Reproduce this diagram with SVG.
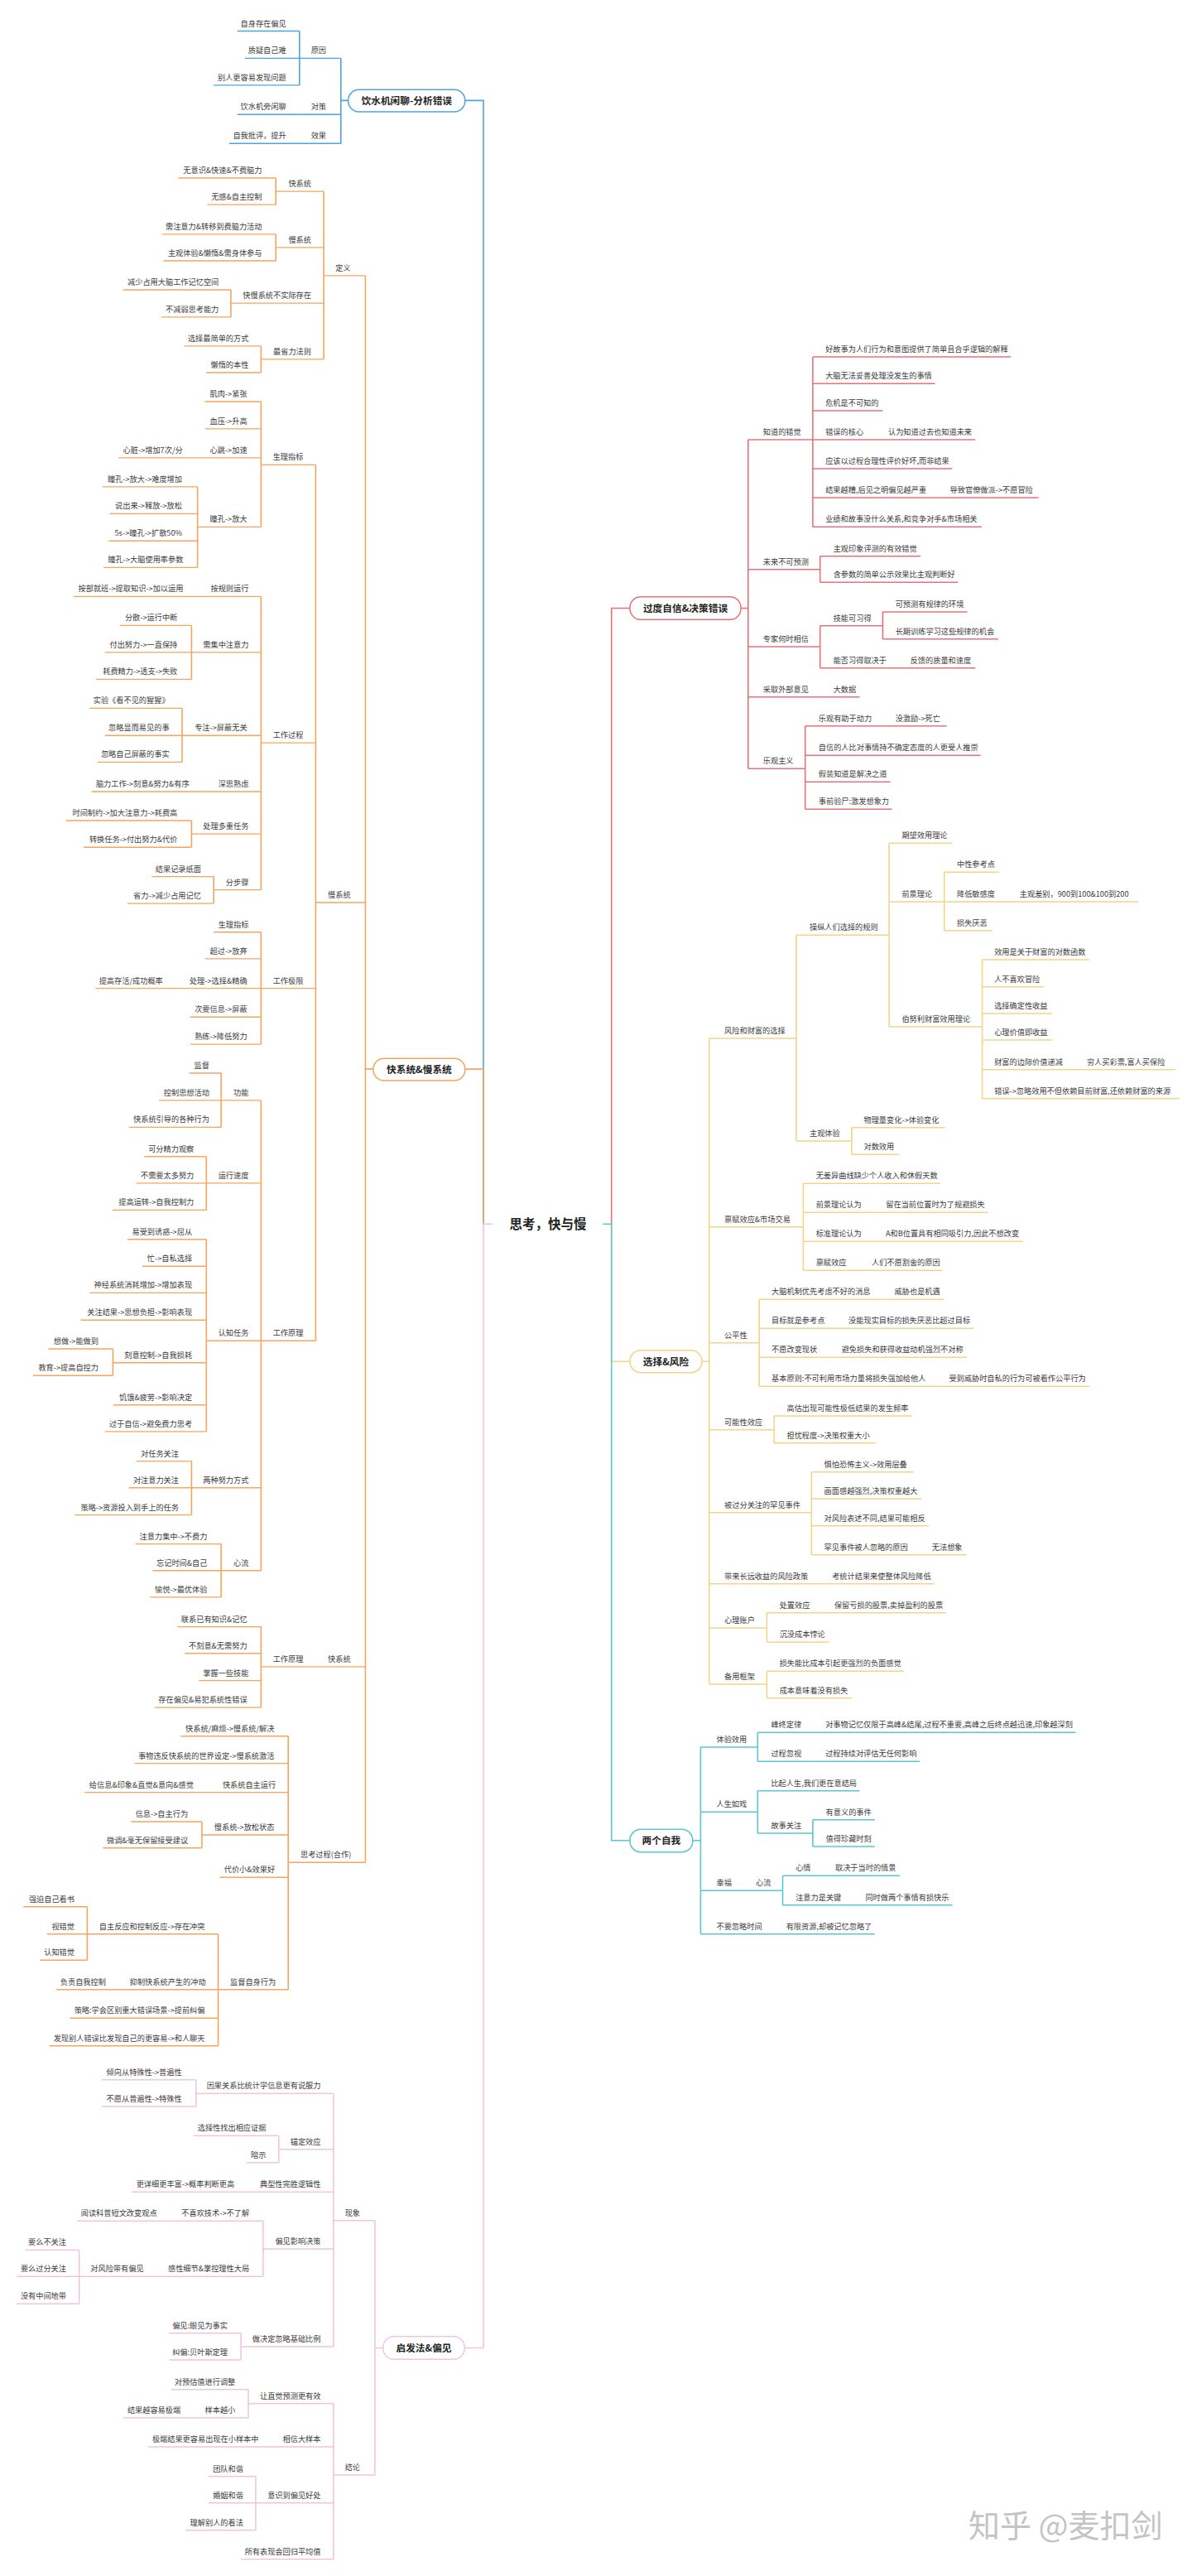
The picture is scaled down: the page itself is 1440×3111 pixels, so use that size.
<svg xmlns="http://www.w3.org/2000/svg" width="1440" height="3111" viewBox="0 0 1440 3111">
<style>
text{font-family:"Noto Sans CJK SC","Noto Sans",sans-serif;fill:#3c3c3c;font-size:9.2px}
.l{text-anchor:end}
.m{text-anchor:middle;font-weight:bold;font-size:11.7px;fill:#222}
.ct{text-anchor:middle;font-weight:bold;font-size:15.5px;fill:#222}
.wm{font-size:38px;fill:#c4c4c4}
path{fill:none;stroke-width:1.4}
#connectors path{stroke-width:1.6}
.b{stroke:#4fa4de}.o{stroke:#f4a55f}.p{stroke:#efc6de}.r{stroke:#e8717d}.y{stroke:#f3d58a}.c{stroke:#5ac7d0}
rect{fill:#fff;stroke-width:1.5}
</style>
<rect x="0" y="0" width="1440" height="3111" style="fill:#fff;stroke:none"/>
<g id="connectors">
<path class="b" d="M361.8 37.5V102.9M411.8 70.4V173.2M411.8 121.4H420.7M561.8 121.4H584V1478.3"/>
<path class="o" d="M441.4 332.9V2249.3M441.4 1291.1H451M561.8 1291.1H584V1478.3M391.1 231.1V433.9M333.2 215V247.1M333.2 282.9V315M278.9 350V382.9M315.4 417.9V450M381.4 561.4V1619.3M315.4 485V636.4M238.6 587.9V685.4M315.4 720.4V1074.6M231.4 755.4V820.4M220 855.4V920.4M231.4 991V1023.2M258.2 1058.6V1091.1M315.4 1125.7V1261.1M315.4 1328.9V1896.8M267.1 1296V1361.4M249.3 1396.8V1461.4M249.3 1496.8V1728.9M136.4 1629V1661.2M231.4 1764.6V1829.6M267.1 1864.6V1928.9M315.4 1964.6V2062.1M348.2 2096.8V2402.7M243.9 2200V2231.7M263.6 2335.7V2470.7M105.4 2302.7V2367.3"/>
<path class="p" d="M595 1478.3H584V2835.5H561.1M452.9 2835.5H462.9M452.9 2681.7V2989M402.9 2528.3V2834M236.8 2511.7V2544M336.8 2579.3V2611.7M317.9 2682.3V2749.3M95.7 2717.3V2782.3M291.1 2817.7V2850M402.9 2902.7V3090.7M300 2885.7V2920M308.9 2990.7V3055.7"/>
<path class="r" d="M738.7 1478.3V734.5H761M895 734.5H903.8M903.8 531V928.3M981.9 431V636.3M990.7 671.7V703.3M990.7 755.7V806.7M1066.4 739V771.7M972.7 876.7V977.3"/>
<path class="y" d="M738.7 1478.3V1644.2H761M847.9 1644.2H856.7M856.7 1254V2034M962 1129.3V1378M1074.1 1018.3V1240M1140.7 1053.3V1124M1186.6 1159V1326.7M1028.9 1361.7V1394.3M970.4 1429.3V1534.3M917.2 1569.3V1674.3M935.2 1710V1742.7M980.3 1777.7V1877.7M926.4 1947.7V1983.3M926.4 2018.3V2050.7"/>
<path class="c" d="M728.4 1478.3H738.7V2222.7H761M836.8 2222.7H846.4M846.4 2110V2335.7M915.3 2092.3V2127.3M915.3 2162.7V2214M981.9 2197.7V2230M945.5 2265.3V2300.7"/>
</g>
<g id="center"><text class="ct" x="662" y="1484">思考，快与慢</text></g>

<g id="blue-main"><rect class="b" x="420.7" y="108.2" width="141.1" height="26.8" rx="13"/><text class="m" x="491.3" y="125.6">饮水机闲聊-分析错误</text></g>
<g id="b1"><text class="l" x="394" y="64.4">原因</text><path class="b" d="M361.8 70.4H411.8"/></g>
<g id="b1a"><text class="l" x="345.7" y="31.5">自身存在偏见</text><path class="b" d="M286.8 37.5H361.8"/></g>
<g id="b1b"><text class="l" x="345.7" y="64.4">质疑自己难</text><path class="b" d="M295.7 70.4H361.8"/></g>
<g id="b1c"><text class="l" x="345.7" y="96.9">别人更容易发现问题</text><path class="b" d="M258.2 102.9H361.8"/></g>
<g id="b2"><text class="l" x="394" y="132.2">对策</text><path class="b" d="M361.8 138.2H411.8"/></g>
<g id="b2a"><text class="l" x="345.7" y="132.2">饮水机旁闲聊</text><path class="b" d="M286.8 138.2H361.8"/></g>
<g id="b3"><text class="l" x="394" y="167.2">效果</text><path class="b" d="M361.8 173.2H411.8"/></g>
<g id="b3a"><text class="l" x="345.7" y="167.2">自我批评，提升</text><path class="b" d="M277 173.2H361.8"/></g>

<g id="orange-main"><rect class="o" x="451" y="1278.2" width="110.8" height="26.8" rx="13"/><text class="m" x="506.4" y="1295.5">快系统&amp;慢系统</text></g>
<g id="o1"><text class="l" x="423.6" y="326.9">定义</text><path class="o" d="M391.1 332.9H441.4"/></g>
<g id="o1a"><text class="l" x="376" y="225.1">快系统</text><path class="o" d="M333.2 231.1H391.1"/></g>
<g id="o1a1"><text class="l" x="316.5" y="209">无意识&amp;快速&amp;不费脑力</text><path class="o" d="M215.4 215H333.2"/></g>
<g id="o1a2"><text class="l" x="316.5" y="241.1">无感&amp;自主控制</text><path class="o" d="M250.4 247.1H333.2"/></g>
<g id="o1b"><text class="l" x="376" y="292.9">慢系统</text><path class="o" d="M333.2 298.9H391.1"/></g>
<g id="o1b1"><text class="l" x="316.5" y="276.9">需注意力&amp;转移到费脑力活动</text><path class="o" d="M195.7 282.9H333.2"/></g>
<g id="o1b2"><text class="l" x="316.5" y="309">主观体验&amp;懒惰&amp;需身体参与</text><path class="o" d="M197.5 315H333.2"/></g>
<g id="o1c"><text class="l" x="376" y="360.1">快慢系统不实际存在</text><path class="o" d="M278.9 366.1H391.1"/></g>
<g id="o1c1"><text class="l" x="264.3" y="344">减少占用大脑工作记忆空间</text><path class="o" d="M148.6 350H278.9"/></g>
<g id="o1c2"><text class="l" x="264.3" y="376.9">不减弱思考能力</text><path class="o" d="M195 382.9H278.9"/></g>
<g id="o1d"><text class="l" x="376" y="427.9">最省力法则</text><path class="o" d="M315.4 433.9H391.1"/></g>
<g id="o1d1"><text class="l" x="300.4" y="411.9">选择最简单的方式</text><path class="o" d="M222.5 417.9H315.4"/></g>
<g id="o1d2"><text class="l" x="300.4" y="444">懒惰的本性</text><path class="o" d="M249.3 450H315.4"/></g>

<g id="o2"><text class="l" x="423.6" y="1084">慢系统</text><path class="o" d="M381.4 1090H441.4"/></g>
<g id="o2a"><text class="l" x="366.4" y="555.4">生理指标</text><path class="o" d="M315.4 561.4H381.4"/></g>
<g id="o2a1"><text class="l" x="298.6" y="479">肌肉-&gt;紧张</text><path class="o" d="M247.5 485H315.4"/></g>
<g id="o2a2"><text class="l" x="298.6" y="511.9">血压-&gt;升高</text><path class="o" d="M247.5 517.9H315.4"/></g>
<g id="o2a3"><text class="l" x="298.6" y="546.9">心跳-&gt;加速</text><path class="o" d="M245 552.9H315.4"/></g>
<g id="o2a3a"><text class="l" x="220.7" y="546.9">心脏-&gt;增加7次/分</text><path class="o" d="M143.2 552.9H245"/></g>
<g id="o2a4"><text class="l" x="298.6" y="630.4">瞳孔-&gt;放大</text><path class="o" d="M238.6 636.4H315.4"/></g>
<g id="o2a4a"><text class="l" x="220" y="581.9">瞳孔-&gt;放大-&gt;难度增加</text><path class="o" d="M123.6 587.9H238.6"/></g>
<g id="o2a4b"><text class="l" x="220" y="614.4">说出来-&gt;释放-&gt;放松</text><path class="o" d="M132.5 620.4H238.6"/></g>
<g id="o2a4c"><text class="l" x="220" y="647.2">5s-&gt;瞳孔-&gt;扩散50%</text><path class="o" d="M131.4 653.2H238.6"/></g>
<g id="o2a4d"><text class="l" x="221.4" y="679.4">瞳孔-&gt;大脑使用率参数</text><path class="o" d="M125 685.4H238.6"/></g>
<g id="o2b"><text class="l" x="366.4" y="891.1">工作过程</text><path class="o" d="M315.4 897.1H381.4"/></g>
<g id="o2b1"><text class="l" x="300.4" y="714.4">按规则运行</text><path class="o" d="M250 720.4H315.4"/></g>
<g id="o2b1a"><text class="l" x="221.4" y="714.4">按部就班-&gt;提取知识-&gt;加以运用</text><path class="o" d="M88.6 720.4H250"/></g>
<g id="o2b2"><text class="l" x="300.4" y="781.9">需集中注意力</text><path class="o" d="M231.4 787.9H315.4"/></g>
<g id="o2b2a"><text class="l" x="214.3" y="749.4">分散-&gt;运行中断</text><path class="o" d="M145 755.4H231.4"/></g>
<g id="o2b2b"><text class="l" x="214.3" y="781.9">付出努力-&gt;一直保持</text><path class="o" d="M126.8 787.9H231.4"/></g>
<g id="o2b2c"><text class="l" x="214.3" y="814.4">耗费精力-&gt;透支-&gt;失败</text><path class="o" d="M116 820.4H231.4"/></g>
<g id="o2b3"><text class="l" x="298.6" y="882.2">专注-&gt;屏蔽无关</text><path class="o" d="M220 888.2H315.4"/></g>
<g id="o2b3a"><text class="l" x="204.6" y="849.4">实验《看不见的猩猩》</text><path class="o" d="M108.2 855.4H220"/></g>
<g id="o2b3b"><text class="l" x="204.6" y="882.2">忽略显而易见的事</text><path class="o" d="M126.8 888.2H220"/></g>
<g id="o2b3c"><text class="l" x="204.6" y="914.4">忽略自己屏蔽的事实</text><path class="o" d="M117.9 920.4H220"/></g>
<g id="o2b4"><text class="l" x="300.4" y="950">深思熟虑</text><path class="o" d="M259 956H315.4"/></g>
<g id="o2b4a"><text class="l" x="228.6" y="950">脑力工作-&gt;刻意&amp;努力&amp;有序</text><path class="o" d="M110.7 956H259"/></g>
<g id="o2b5"><text class="l" x="300.4" y="1001.1">处理多重任务</text><path class="o" d="M231.4 1007.1H315.4"/></g>
<g id="o2b5a"><text class="l" x="214.3" y="985">时间制约-&gt;加大注意力-&gt;耗费高</text><path class="o" d="M79.6 991H231.4"/></g>
<g id="o2b5b"><text class="l" x="214.3" y="1017.2">转换任务-&gt;付出努力&amp;代价</text><path class="o" d="M101 1023.2H231.4"/></g>
<g id="o2b6"><text class="l" x="300.4" y="1068.6">分步骤</text><path class="o" d="M258.2 1074.6H315.4"/></g>
<g id="o2b6a"><text class="l" x="242.9" y="1052.6">结果记录纸面</text><path class="o" d="M183.2 1058.6H258.2"/></g>
<g id="o2b6b"><text class="l" x="242.9" y="1085.1">省力-&gt;减少占用记忆</text><path class="o" d="M153.9 1091.1H258.2"/></g>
<g id="o2c"><text class="l" x="366.4" y="1187.6">工作极限</text><path class="o" d="M315.4 1193.6H381.4"/></g>
<g id="o2c1"><text class="l" x="300.4" y="1119.7">生理指标</text><path class="o" d="M258.2 1125.7H315.4"/></g>
<g id="o2c2"><text class="l" x="298.6" y="1151.9">超过-&gt;放弃</text><path class="o" d="M247.5 1157.9H315.4"/></g>
<g id="o2c3"><text class="l" x="298.6" y="1187.6">处理-&gt;选择&amp;精确</text><path class="o" d="M222 1193.6H315.4"/></g>
<g id="o2c3a"><text class="l" x="196.8" y="1187.6">提高存活/成功概率</text><path class="o" d="M115.4 1193.6H222"/></g>
<g id="o2c4"><text class="l" x="298.6" y="1222.2">次要信息-&gt;屏蔽</text><path class="o" d="M229.6 1228.2H315.4"/></g>
<g id="o2c5"><text class="l" x="298.6" y="1255.1">熟练-&gt;降低努力</text><path class="o" d="M229.6 1261.1H315.4"/></g>
<g id="o2d"><text class="l" x="366.4" y="1613.3">工作原理</text><path class="o" d="M315.4 1619.3H381.4"/></g>
<g id="o2d1"><text class="l" x="300.4" y="1322.9">功能</text><path class="o" d="M267.1 1328.9H315.4"/></g>
<g id="o2d1a"><text class="l" x="252.9" y="1290">监督</text><path class="o" d="M228.6 1296H267.1"/></g>
<g id="o2d1b"><text class="l" x="252.9" y="1322.9">控制思想活动</text><path class="o" d="M192.1 1328.9H267.1"/></g>
<g id="o2d1c"><text class="l" x="252.9" y="1355.4">快系统引导的各种行为</text><path class="o" d="M155.7 1361.4H267.1"/></g>
<g id="o2d2"><text class="l" x="300.4" y="1422.9">运行速度</text><path class="o" d="M249.3 1428.9H315.4"/></g>
<g id="o2d2a"><text class="l" x="234.3" y="1390.8">可分精力观察</text><path class="o" d="M174.3 1396.8H249.3"/></g>
<g id="o2d2b"><text class="l" x="234.3" y="1422.9">不需要太多努力</text><path class="o" d="M164.6 1428.9H249.3"/></g>
<g id="o2d2c"><text class="l" x="234.3" y="1455.4">提高运转-&gt;自我控制力</text><path class="o" d="M136.1 1461.4H249.3"/></g>
<g id="o2d3"><text class="l" x="300.4" y="1613.3">认知任务</text><path class="o" d="M249.3 1619.3H315.4"/></g>
<g id="o2d3a"><text class="l" x="232.1" y="1490.8">易受到诱惑-&gt;屈从</text><path class="o" d="M153.9 1496.8H249.3"/></g>
<g id="o2d3b"><text class="l" x="232.1" y="1523.3">忙-&gt;自私选择</text><path class="o" d="M171.8 1529.3H249.3"/></g>
<g id="o2d3c"><text class="l" x="232.1" y="1555.4">神经系统消耗增加-&gt;增加表现</text><path class="o" d="M108.2 1561.4H249.3"/></g>
<g id="o2d3d"><text class="l" x="232.1" y="1588.3">关注结果-&gt;思想负担-&gt;影响表现</text><path class="o" d="M97.5 1594.3H249.3"/></g>
<g id="o2d3e"><text class="l" x="232.1" y="1639.7">刻意控制-&gt;自我损耗</text><path class="o" d="M136.4 1645.7H249.3"/></g>
<g id="o2d3e1"><text class="l" x="119" y="1623">想做-&gt;能做到</text><path class="o" d="M58.3 1629H136.4"/></g>
<g id="o2d3e2"><text class="l" x="119" y="1655.2">教育-&gt;提高自控力</text><path class="o" d="M40 1661.2H136.4"/></g>
<g id="o2d3f"><text class="l" x="232.1" y="1690.8">饥饿&amp;疲劳-&gt;影响决定</text><path class="o" d="M136.8 1696.8H249.3"/></g>
<g id="o2d3g"><text class="l" x="232.1" y="1722.9">过于自信-&gt;避免费力思考</text><path class="o" d="M126.8 1728.9H249.3"/></g>
<g id="o2d4"><text class="l" x="300.4" y="1790.8">两种努力方式</text><path class="o" d="M231.4 1796.8H315.4"/></g>
<g id="o2d4a"><text class="l" x="216" y="1758.6">对任务关注</text><path class="o" d="M164.6 1764.6H231.4"/></g>
<g id="o2d4b"><text class="l" x="216" y="1790.8">对注意力关注</text><path class="o" d="M155.7 1796.8H231.4"/></g>
<g id="o2d4c"><text class="l" x="216" y="1823.6">策略-&gt;资源投入到手上的任务</text><path class="o" d="M90.4 1829.6H231.4"/></g>
<g id="o2d5"><text class="l" x="300.4" y="1890.8">心流</text><path class="o" d="M267.1 1896.8H315.4"/></g>
<g id="o2d5a"><text class="l" x="250.4" y="1858.6">注意力集中-&gt;不费力</text><path class="o" d="M163.6 1864.6H267.1"/></g>
<g id="o2d5b"><text class="l" x="250.4" y="1890.8">忘记时间&amp;自己</text><path class="o" d="M184.3 1896.8H267.1"/></g>
<g id="o2d5c"><text class="l" x="250.4" y="1922.9">愉悦-&gt;最优体验</text><path class="o" d="M181.4 1928.9H267.1"/></g>

<g id="o3"><text class="l" x="423.6" y="2006.9">快系统</text><path class="o" d="M381.4 2012.9H441.4"/></g>
<g id="o3a"><text class="l" x="366.4" y="2006.9">工作原理</text><path class="o" d="M315.4 2012.9H381.4"/></g>
<g id="o3a1"><text class="l" x="298.6" y="1958.6">联系已有知识&amp;记忆</text><path class="o" d="M214.3 1964.6H315.4"/></g>
<g id="o3a2"><text class="l" x="298.6" y="1990.8">不刻意&amp;无需努力</text><path class="o" d="M223.2 1996.8H315.4"/></g>
<g id="o3a3"><text class="l" x="300.4" y="2023.6">掌握一些技能</text><path class="o" d="M240.4 2029.6H315.4"/></g>
<g id="o3a4"><text class="l" x="298.6" y="2056.1">存在偏见&amp;易犯系统性错误</text><path class="o" d="M186.8 2062.1H315.4"/></g>

<g id="o4"><text class="l" x="424.3" y="2243.3">思考过程(合作)</text><path class="o" d="M348.2 2249.3H441.4"/></g>
<g id="o4a"><text class="l" x="331.4" y="2090.8">快系统/麻烦-&gt;慢系统/解决</text><path class="o" d="M218.2 2096.8H348.2"/></g>
<g id="o4b"><text class="l" x="331.4" y="2123.6">事物违反快系统的世界设定-&gt;慢系统激活</text><path class="o" d="M162.5 2129.6H348.2"/></g>
<g id="o4c"><text class="l" x="333.2" y="2158.6">快系统自主运行</text><path class="o" d="M265 2164.6H348.2"/></g>
<g id="o4c1"><text class="l" x="233.9" y="2158.6">给信息&amp;印象&amp;直觉&amp;意向&amp;感觉</text><path class="o" d="M102.1 2164.6H265"/></g>
<g id="o4d"><text class="l" x="331.4" y="2210">慢系统-&gt;放松状态</text><path class="o" d="M243.9 2216H348.2"/></g>
<g id="o4d1"><text class="l" x="227.1" y="2194">信息-&gt;自主行为</text><path class="o" d="M158.2 2200H243.9"/></g>
<g id="o4d2"><text class="l" x="227.1" y="2225.7">微调&amp;毫无保留接受建议</text><path class="o" d="M124.3 2231.7H243.9"/></g>
<g id="o4e"><text class="l" x="332.1" y="2261.3">代价小&amp;效果好</text><path class="o" d="M265.4 2267.3H348.2"/></g>
<g id="o4f"><text class="l" x="333.2" y="2396.7">监督自身行为</text><path class="o" d="M263.6 2402.7H348.2"/></g>
<g id="o4f1"><text class="l" x="247.5" y="2329.7">自主反应和控制反应-&gt;存在冲突</text><path class="o" d="M105.4 2335.7H263.6"/></g>
<g id="o4f1a"><text class="l" x="90" y="2296.7">强迫自己看书</text><path class="o" d="M28.3 2302.7H105.4"/></g>
<g id="o4f1b"><text class="l" x="90" y="2329.7">视错觉</text><path class="o" d="M56.7 2335.7H105.4"/></g>
<g id="o4f1c"><text class="l" x="90" y="2361.3">认知错觉</text><path class="o" d="M48.3 2367.3H105.4"/></g>
<g id="o4f2"><text class="l" x="248.6" y="2396.7">抑制快系统产生的冲动</text><path class="o" d="M150 2402.7H263.6"/></g>
<g id="o4f2a"><text class="l" x="127.9" y="2396.7">负责自我控制</text><path class="o" d="M67.9 2402.7H150"/></g>
<g id="o4f3"><text class="l" x="247.5" y="2431.3">策略:学会区别重大错误场景-&gt;提前纠偏</text><path class="o" d="M84.3 2437.3H263.6"/></g>
<g id="o4f4"><text class="l" x="247.5" y="2464.7">发现别人错误比发现自己的更容易-&gt;和人聊天</text><path class="o" d="M59.6 2470.7H263.6"/></g>

<g id="pink-main"><rect class="p" x="462.9" y="2821.7" width="98.2" height="27.6" rx="13"/><text class="m" x="512" y="2839.8">启发法&amp;偏见</text></g>
<g id="p1"><text class="l" x="435" y="2675.7">现象</text><path class="p" d="M402.9 2681.7H452.9"/></g>
<g id="p1a"><text class="l" x="387.5" y="2522.3">因果关系比统计学信息更有说服力</text><path class="p" d="M236.8 2528.3H402.9"/></g>
<g id="p1a1"><text class="l" x="219.6" y="2505.7">倾向从特殊性-&gt;普遍性</text><path class="p" d="M123.2 2511.7H236.8"/></g>
<g id="p1a2"><text class="l" x="219.6" y="2538">不愿从普遍性-&gt;特殊性</text><path class="p" d="M123.2 2544H236.8"/></g>
<g id="p1b"><text class="l" x="387.5" y="2589.7">锚定效应</text><path class="p" d="M336.8 2595.7H402.9"/></g>
<g id="p1b1"><text class="l" x="321.4" y="2573.3">选择性找出相应证据</text><path class="p" d="M233.9 2579.3H336.8"/></g>
<g id="p1b2"><text class="l" x="321.4" y="2605.7">暗示</text><path class="p" d="M297.5 2611.7H336.8"/></g>
<g id="p1c"><text class="l" x="387.5" y="2641.3">典型性完胜逻辑性</text><path class="p" d="M300 2647.3H402.9"/></g>
<g id="p1c1"><text class="l" x="283.2" y="2641.3">更详细更丰富-&gt;概率判断更高</text><path class="p" d="M159.3 2647.3H300"/></g>
<g id="p1d"><text class="l" x="387.5" y="2710">偏见影响决策</text><path class="p" d="M317.9 2716H402.9"/></g>
<g id="p1d1"><text class="l" x="301.1" y="2676.3">不喜欢技术-&gt;不了解</text><path class="p" d="M210 2682.3H317.9"/></g>
<g id="p1d1a"><text class="l" x="189.6" y="2676.3">阅读科普短文改变观点</text><path class="p" d="M93.2 2682.3H210"/></g>
<g id="p1d2"><text class="l" x="301.1" y="2743.3">感性细节&amp;掌控理性大局</text><path class="p" d="M195 2749.3H317.9"/></g>
<g id="p1d2a"><text class="l" x="173.6" y="2743.3">对风险带有偏见</text><path class="p" d="M95.7 2749.3H195"/></g>
<g id="p1d2a1"><text class="l" x="80" y="2711.3">要么不关注</text><path class="p" d="M30.7 2717.3H95.7"/></g>
<g id="p1d2a2"><text class="l" x="80" y="2743.3">要么过分关注</text><path class="p" d="M20 2749.3H95.7"/></g>
<g id="p1d2a3"><text class="l" x="80" y="2776.3">没有中间地带</text><path class="p" d="M20 2782.3H95.7"/></g>
<g id="p1e"><text class="l" x="387.5" y="2828">做决定忽略基础比例</text><path class="p" d="M291.1 2834H402.9"/></g>
<g id="p1e1"><text class="l" x="275" y="2811.7">偏见:眼见为事实</text><path class="p" d="M204.6 2817.7H291.1"/></g>
<g id="p1e2"><text class="l" x="275" y="2844">纠偏:贝叶斯定理</text><path class="p" d="M204.6 2850H291.1"/></g>
<g id="p2"><text class="l" x="435" y="2983">结论</text><path class="p" d="M402.9 2989H452.9"/></g>
<g id="p2a"><text class="l" x="387.5" y="2896.7">让直觉预测更有效</text><path class="p" d="M300 2902.7H402.9"/></g>
<g id="p2a1"><text class="l" x="284.3" y="2879.7">对预估值进行调整</text><path class="p" d="M206.4 2885.7H300"/></g>
<g id="p2a2"><text class="l" x="284.3" y="2914">样本越小</text><path class="p" d="M243 2920H300"/></g>
<g id="p2a2a"><text class="l" x="218.2" y="2914">结果越容易极端</text><path class="p" d="M148.6 2920H243"/></g>
<g id="p2b"><text class="l" x="387.5" y="2949">相信大样本</text><path class="p" d="M337 2955H402.9"/></g>
<g id="p2b1"><text class="l" x="312.5" y="2949">极端结果更容易出现在小样本中</text><path class="p" d="M178.9 2955H337"/></g>
<g id="p2c"><text class="l" x="387.5" y="3016.7">意识到偏见好处</text><path class="p" d="M308.9 3022.7H402.9"/></g>
<g id="p2c1"><text class="l" x="293.9" y="2984.7">团队和谐</text><path class="p" d="M252.1 2990.7H308.9"/></g>
<g id="p2c2"><text class="l" x="293.9" y="3016.7">婚姻和谐</text><path class="p" d="M252.1 3022.7H308.9"/></g>
<g id="p2c3"><text class="l" x="293.9" y="3049.7">理解别人的看法</text><path class="p" d="M224.3 3055.7H308.9"/></g>
<g id="p2d"><text class="l" x="387.5" y="3084.7">所有表现会回归平均值</text><path class="p" d="M291.1 3090.7H402.9"/></g>

<g id="red-main"><rect class="r" x="761" y="720.7" width="134" height="27.6" rx="13"/><text class="m" x="828" y="738.8">过度自信&amp;决策错误</text></g>
<g id="r1"><text x="921.8" y="525">知道的错觉</text><path class="r" d="M903.8 531H981.9"/></g>
<g id="r1a"><text x="997.2" y="425">好故事为人们行为和意图提供了简单且合乎逻辑的解释</text><path class="r" d="M981.9 431H1221.1"/></g>
<g id="r1b"><text x="997.2" y="457.3">大脑无法妥善处理没发生的事情</text><path class="r" d="M981.9 463.3H1129.6"/></g>
<g id="r1c"><text x="997.2" y="490">危机是不可知的</text><path class="r" d="M981.9 496H1066.4"/></g>
<g id="r1d"><text x="997.2" y="525">错误的核心</text><path class="r" d="M981.9 531H1060"/></g>
<g id="r1d1"><text x="1073" y="525">认为知道过去也知道未来</text><path class="r" d="M1060 531H1178.2"/></g>
<g id="r1e"><text x="997.2" y="560">应该以过程合理性评价好坏,而非结果</text><path class="r" d="M981.9 566H1150.3"/></g>
<g id="r1f"><text x="997.2" y="595">结果越糟,后见之明偏见越严重</text><path class="r" d="M981.9 601H1132"/></g>
<g id="r1f1"><text x="1147.6" y="595">导致官僚做派-&gt;不愿冒险</text><path class="r" d="M1132 601H1254.7"/></g>
<g id="r1g"><text x="997.2" y="630.3">业绩和故事没什么关系,和竞争对手&amp;市场相关</text><path class="r" d="M981.9 636.3H1185.8"/></g>
<g id="r2"><text x="921.8" y="681.7">未来不可预测</text><path class="r" d="M903.8 687.7H990.7"/></g>
<g id="r2a"><text x="1006.7" y="665.7">主观印象评测的有效错觉</text><path class="r" d="M990.7 671.7H1112"/></g>
<g id="r2b"><text x="1006.7" y="697.3">含参数的简单公示效果比主观判断好</text><path class="r" d="M990.7 703.3H1157.1"/></g>
<g id="r3"><text x="921.8" y="775">专家何时相信</text><path class="r" d="M903.8 781H990.7"/></g>
<g id="r3a"><text x="1006.7" y="749.7">技能可习得</text><path class="r" d="M990.7 755.7H1066.4"/></g>
<g id="r3a1"><text x="1081.7" y="733">可预测有规律的环境</text><path class="r" d="M1066.4 739H1168.6"/></g>
<g id="r3a2"><text x="1081.7" y="765.7">长期训练学习这些规律的机会</text><path class="r" d="M1066.4 771.7H1205.7"/></g>
<g id="r3b"><text x="1006.7" y="800.7">能否习得取决于</text><path class="r" d="M990.7 806.7H1085"/></g>
<g id="r3b1"><text x="1099.7" y="800.7">反馈的质量和速度</text><path class="r" d="M1085 806.7H1178.2"/></g>
<g id="r4"><text x="921.8" y="835.7">采取外部意见</text><path class="r" d="M903.8 841.7H990.7"/></g>
<g id="r4a"><text x="1006.7" y="835.7">大数据</text><path class="r" d="M990.7 841.7H1038.5"/></g>
<g id="r5"><text x="921.8" y="922.3">乐观主义</text><path class="r" d="M903.8 928.3H972.7"/></g>
<g id="r5a"><text x="988.8" y="870.7">乐观有助于动力</text><path class="r" d="M972.7 876.7H1066"/></g>
<g id="r5a1"><text x="1081.7" y="870.7">没激励-&gt;死亡</text><path class="r" d="M1066 876.7H1143.7"/></g>
<g id="r5b"><text x="988.8" y="906.3">自信的人比对事情持不确定态度的人更受人推崇</text><path class="r" d="M972.7 912.3H1184.7"/></g>
<g id="r5c"><text x="988.8" y="938.3">假装知道是解决之道</text><path class="r" d="M972.7 944.3H1075.6"/></g>
<g id="r5d"><text x="988.8" y="971.3">事前验尸:激发想象力</text><path class="r" d="M972.7 977.3H1077.5"/></g>

<g id="yellow-main"><rect class="y" x="761" y="1630.7" width="86.9" height="27" rx="13"/><text class="m" x="804.5" y="1648.5">选择&amp;风险</text></g>
<g id="y1"><text x="875.1" y="1248">风险和财富的选择</text><path class="y" d="M856.7 1254H962"/></g>
<g id="y1a"><text x="978" y="1123.3">操纵人们选择的规则</text><path class="y" d="M962 1129.3H1074.1"/></g>
<g id="y1a1"><text x="1089.4" y="1012.3">期望效用理论</text><path class="y" d="M1074.1 1018.3H1150.3"/></g>
<g id="y1a2"><text x="1089.4" y="1083">前景理论</text><path class="y" d="M1074.1 1089H1140.7"/></g>
<g id="y1a2a"><text x="1156" y="1047.3">中性参考点</text><path class="y" d="M1140.7 1053.3H1206.9"/></g>
<g id="y1a2b"><text x="1156" y="1083">降低敏感度</text><path class="y" d="M1140.7 1089H1217"/></g>
<g id="y1a2b1"><text x="1231.8" y="1083">主观差别，900到100&amp;100到200</text><path class="y" d="M1217 1089H1375"/></g>
<g id="y1a2c"><text x="1156" y="1118">损失厌恶</text><path class="y" d="M1140.7 1124H1198.1"/></g>
<g id="y1a3"><text x="1089.4" y="1234">伯努利财富效用理论</text><path class="y" d="M1074.1 1240H1186.6"/></g>
<g id="y1a3a"><text x="1201.2" y="1153">效用是关于财富的对数函数</text><path class="y" d="M1186.6 1159H1316"/></g>
<g id="y1a3b"><text x="1201.2" y="1185.7">人不喜欢冒险</text><path class="y" d="M1186.6 1191.7H1261.2"/></g>
<g id="y1a3c"><text x="1201.2" y="1218">选择确定性收益</text><path class="y" d="M1186.6 1224H1270.8"/></g>
<g id="y1a3d"><text x="1201.2" y="1250">心理价值即收益</text><path class="y" d="M1186.6 1256H1270.8"/></g>
<g id="y1a3e"><text x="1201.2" y="1285.7">财富的边际价值递减</text><path class="y" d="M1186.6 1291.7H1297"/></g>
<g id="y1a3e1"><text x="1312.9" y="1285.7">穷人买彩票,富人买保险</text><path class="y" d="M1297 1291.7H1420"/></g>
<g id="y1a3f"><text x="1201.2" y="1320.7">错误-&gt;忽略效用不但依赖目前财富,还依赖财富的来源</text><path class="y" d="M1186.6 1326.7H1425"/></g>
<g id="y1b"><text x="978" y="1372">主观体验</text><path class="y" d="M962 1378H1028.9"/></g>
<g id="y1b1"><text x="1043.5" y="1355.7">物理量变化-&gt;体验变化</text><path class="y" d="M1028.9 1361.7H1141.8"/></g>
<g id="y1b2"><text x="1043.5" y="1388.3">对数效用</text><path class="y" d="M1028.9 1394.3H1086.3"/></g>
<g id="y2"><text x="875.1" y="1475.8">禀赋效应&amp;市场交易</text><path class="y" d="M856.7 1481.8H970.4"/></g>
<g id="y2a"><text x="985.7" y="1423.3">无差异曲线缺少个人收入和休假天数</text><path class="y" d="M970.4 1429.3H1136.1"/></g>
<g id="y2b"><text x="985.7" y="1458.3">前景理论认为</text><path class="y" d="M970.4 1464.3H1055"/></g>
<g id="y2b1"><text x="1070.3" y="1458.3">留在当前位置时为了规避损失</text><path class="y" d="M1055 1464.3H1193.5"/></g>
<g id="y2c"><text x="985.7" y="1493.3">标准理论认为</text><path class="y" d="M970.4 1499.3H1055"/></g>
<g id="y2c1"><text x="1069.9" y="1493.3">A和B位置具有相同吸引力,因此不想改变</text><path class="y" d="M1055 1499.3H1235.6"/></g>
<g id="y2d"><text x="985.7" y="1528.3">禀赋效应</text><path class="y" d="M970.4 1534.3H1038"/></g>
<g id="y2d1"><text x="1053" y="1528.3">人们不愿割舍的原因</text><path class="y" d="M1038 1534.3H1138.8"/></g>
<g id="y3"><text x="875.1" y="1615.8">公平性</text><path class="y" d="M856.7 1621.8H917.2"/></g>
<g id="y3a"><text x="932.1" y="1563.3">大脑机制优先考虑不好的消息</text><path class="y" d="M917.2 1569.3H1065"/></g>
<g id="y3a1"><text x="1080.6" y="1563.3">威胁也是机遇</text><path class="y" d="M1065 1569.3H1139.9"/></g>
<g id="y3b"><text x="932.1" y="1598.3">目标就是参考点</text><path class="y" d="M917.2 1604.3H1010"/></g>
<g id="y3b1"><text x="1025.1" y="1598.3">没能现实目标的损失厌恶比超过目标</text><path class="y" d="M1010 1604.3H1176.3"/></g>
<g id="y3c"><text x="932.1" y="1633.3">不愿改变现状</text><path class="y" d="M917.2 1639.3H1001"/></g>
<g id="y3c1"><text x="1016.7" y="1633.3">避免损失和获得收益动机强烈不对称</text><path class="y" d="M1001 1639.3H1167.9"/></g>
<g id="y3d"><text x="932.1" y="1668.3">基本原则:不可利用市场力量将损失强加给他人</text><path class="y" d="M917.2 1674.3H1131"/></g>
<g id="y3d1"><text x="1146.4" y="1668.3">受到威胁时自私的行为可被看作公平行为</text><path class="y" d="M1131 1674.3H1316"/></g>
<g id="y4"><text x="875.1" y="1720.7">可能性效应</text><path class="y" d="M856.7 1726.7H935.2"/></g>
<g id="y4a"><text x="950.5" y="1704">高估出现可能性极低结果的发生频率</text><path class="y" d="M935.2 1710H1101.6"/></g>
<g id="y4b"><text x="950.5" y="1736.7">担忧程度-&gt;决策权重大小</text><path class="y" d="M935.2 1742.7H1057.6"/></g>
<g id="y5"><text x="875.1" y="1820.7">被过分关注的罕见事件</text><path class="y" d="M856.7 1826.7H980.3"/></g>
<g id="y5a"><text x="995.6" y="1771.7">惧怕恐怖主义-&gt;效用层叠</text><path class="y" d="M980.3 1777.7H1103.6"/></g>
<g id="y5b"><text x="995.6" y="1804">画面感越强烈,决策权重越大</text><path class="y" d="M980.3 1810H1113.1"/></g>
<g id="y5c"><text x="995.6" y="1836.7">对风险表述不同,结果可能相反</text><path class="y" d="M980.3 1842.7H1121.9"/></g>
<g id="y5d"><text x="995.6" y="1871.7">罕见事件被人忽略的原因</text><path class="y" d="M980.3 1877.7H1110"/></g>
<g id="y5d1"><text x="1125.8" y="1871.7">无法想象</text><path class="y" d="M1110 1877.7H1167.9"/></g>
<g id="y6"><text x="875.1" y="1906.7">带来长远收益的风险政策</text><path class="y" d="M856.7 1912.7H990"/></g>
<g id="y6a"><text x="1005.2" y="1906.7">考统计结果来使整体风险降低</text><path class="y" d="M990 1912.7H1128.4"/></g>
<g id="y7"><text x="875.1" y="1960">心理账户</text><path class="y" d="M856.7 1966H926.4"/></g>
<g id="y7a"><text x="941.7" y="1941.7">处置效应</text><path class="y" d="M926.4 1947.7H993"/></g>
<g id="y7a1"><text x="1007.9" y="1941.7">保留亏损的股票,卖掉盈利的股票</text><path class="y" d="M993 1947.7H1143"/></g>
<g id="y7b"><text x="941.7" y="1977.3">沉没成本悖论</text><path class="y" d="M926.4 1983.3H1001.4"/></g>
<g id="y8"><text x="875.1" y="2028">备用框架</text><path class="y" d="M856.7 2034H926.4"/></g>
<g id="y8a"><text x="941.7" y="2012.3">损失能比成本引起更强烈的负面感觉</text><path class="y" d="M926.4 2018.3H1092.1"/></g>
<g id="y8b"><text x="941.7" y="2044.7">成本意味着没有损失</text><path class="y" d="M926.4 2050.7H1028.9"/></g>

<g id="cyan-main"><rect class="c" x="761" y="2209.3" width="75.8" height="27.4" rx="13"/><text class="m" x="798.9" y="2227.2">两个自我</text></g>
<g id="c1"><text x="865.5" y="2104">体验效用</text><path class="c" d="M846.4 2110H915.3"/></g>
<g id="c1a"><text x="931.4" y="2086.3">峰终定律</text><path class="c" d="M915.3 2092.3H982"/></g>
<g id="c1a1"><text x="997.2" y="2086.3">对事物记忆仅限于高峰&amp;结尾,过程不重要,高峰之后终点越迅速,印象越深刻</text><path class="c" d="M982 2092.3H1299.5"/></g>
<g id="c1b"><text x="931.4" y="2121.3">过程忽视</text><path class="c" d="M915.3 2127.3H982"/></g>
<g id="c1b1"><text x="997.2" y="2121.3">过程持续对评估无任何影响</text><path class="c" d="M982 2127.3H1111.2"/></g>
<g id="c2"><text x="865.5" y="2182.3">人生如戏</text><path class="c" d="M846.4 2188.3H915.3"/></g>
<g id="c2a"><text x="931.4" y="2156.7">比起人生,我们更在意结局</text><path class="c" d="M915.3 2162.7H1038.5"/></g>
<g id="c2b"><text x="931.4" y="2208">故事关注</text><path class="c" d="M915.3 2214H981.9"/></g>
<g id="c2b1"><text x="997.6" y="2191.7">有意义的事件</text><path class="c" d="M981.9 2197.7H1056.9"/></g>
<g id="c2b2"><text x="997.6" y="2224">值得珍藏时刻</text><path class="c" d="M981.9 2230H1056.9"/></g>
<g id="c3"><text x="865.5" y="2277.3">幸福</text><path class="c" d="M846.4 2283.3H898"/></g>
<g id="c3a"><text x="913" y="2277.3">心流</text><path class="c" d="M898 2283.3H945.5"/></g>
<g id="c3a1"><text x="961.2" y="2259.3">心情</text><path class="c" d="M945.5 2265.3H994"/></g>
<g id="c3a1a"><text x="1009" y="2259.3">取决于当时的情景</text><path class="c" d="M994 2265.3H1087.1"/></g>
<g id="c3a2"><text x="961.2" y="2294.7">注意力是关键</text><path class="c" d="M945.5 2300.7H1030"/></g>
<g id="c3a2a"><text x="1045.4" y="2294.7">同时做两个事情有损快乐</text><path class="c" d="M1030 2300.7H1150.6"/></g>
<g id="c4"><text x="865.5" y="2329.7">不要忽略时间</text><path class="c" d="M846.4 2335.7H935"/></g>
<g id="c4a"><text x="949.7" y="2329.7">有限资源,却被记忆忽略了</text><path class="c" d="M935 2335.7H1056.9"/></g>

<text class="wm" x="1170" y="3064">知乎 @麦扣剑</text>
</svg>
